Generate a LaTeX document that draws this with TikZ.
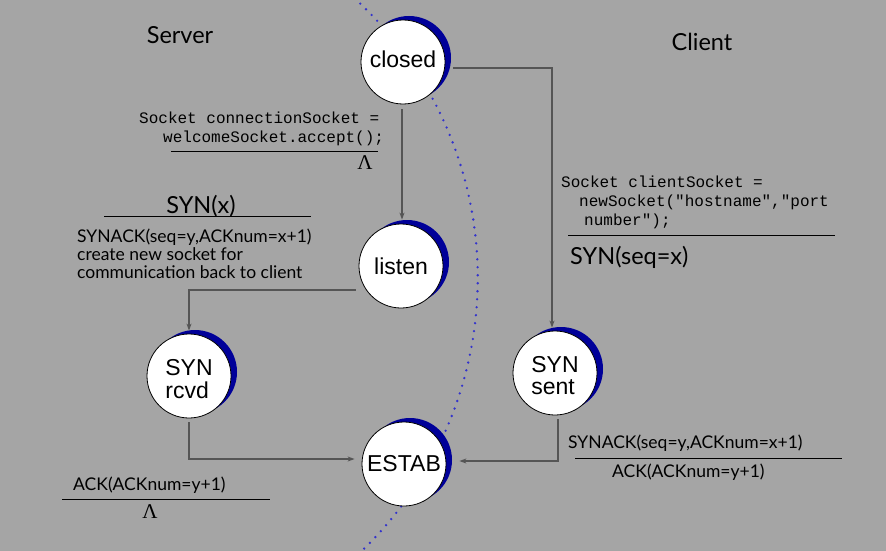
\documentclass[tikz,border=0pt]{standalone}
\usepackage{fontspec}
\setmainfont{Lato}
\newfontfamily\arialf{Liberation Sans}
\newfontfamily\monof{Liberation Mono}
\newfontfamily\seriff{Liberation Serif}
\usetikzlibrary{arrows.meta,shadows}
\definecolor{bg}{HTML}{A5A5A5}
\definecolor{crescent}{HTML}{000099}
\definecolor{dotblue}{HTML}{3333CC}
\definecolor{connc}{HTML}{555555}
\newcommand{\twoline}[2]{\raisebox{-6pt}[\height][\depth]{\begin{tabular}{@{}l@{}}#1\\#2\end{tabular}}}
\tikzset{
  state/.style={circle,draw=black,line width=0.8pt,fill=white,minimum size=84pt,inner sep=0pt,
    font=\arialf\fontsize{23}{22}\selectfont,
    general shadow={shadow xshift=6pt,shadow yshift=4pt,fill=crescent,draw=none,opacity=1}},
  conn/.style={draw=connc,line width=1.3pt,-{Stealth[length=7pt,width=5pt]}},
  code/.style={font=\monof\fontsize{16}{19}\selectfont,inner sep=0pt,anchor=base west},
  lbl/.style={font=\fontsize{17.5}{18}\selectfont,inner sep=0pt,anchor=base west},
  big/.style={font=\fontsize{23.5}{26}\selectfont,inner sep=0pt},
  lam/.style={font=\seriff\fontsize{21}{21}\selectfont,inner sep=0pt},
  rule/.style={draw=black,line width=0.8pt},
  dots/.style={draw=dotblue,line width=2.6pt,line cap=round,dash pattern=on 0pt off 8pt},
}
\begin{document}
\begin{tikzpicture}[x=1pt,y=-1pt]
\fill[bg] (0,0) rectangle (886,551);
\useasboundingbox (0,0) rectangle (886,551);
% dotted boundary arc
\draw[dots] (98.75,278) ++(-50:379) arc[start angle=-50,end angle=50,radius=379];
% titles
\node[big] (server) at (180,35) {Server};
\node[big] (client) at (702,42) {Client};
% states
\node[state] (closed) at (403,62) {\raisebox{3pt}[\height][\depth]{closed}};
\node[state] (listen) at (401,266) {listen};
\node[state] (synrcvd) at (189,376) {\twoline{SYN}{rcvd}};
\node[state] (estab) at (404,464) {ESTAB};
\node[state] (synsent) at (555,373) {\twoline{SYN}{sent}};
% connectors
\draw[conn] ([shift={(8,6)}]closed.east) -| ([shift={(-3,-3)}]synsent.north);
\draw[conn] ([shift={(-1,5)}]closed.south) -- ([shift={(-1,-4)}]closed.south |- listen.north);
\draw[conn] ([shift={(-3,24)}]listen.west) -| ([shift={(0,-3)}]synrcvd.north);
\draw[conn] ([shift={(0,4)}]synrcvd.south) |- ([shift={(-7,-5)}]estab.west);
\draw[conn] ([shift={(3,4)}]synsent.south) |- ([shift={(13,-3)}]estab.east);
% server-side labels
\node[code] (sc1) at (139,123) {Socket connectionSocket =};
\node[code] (sc2) at (163,142) {welcomeSocket.accept();};
\draw[rule] (171,151) -- (378,151);
\node[lam] (lam1) at (365,163) {Λ};
\node[big] (synx) at (201,206) {SYN(x)};
\draw[rule] (104,216) -- (311,216);
\node[lbl,align=left,anchor=north west,font=\fontsize{17.5}{18}\selectfont] (synack1) at (77,229) {SYNACK(seq=y,ACKnum=x+1)\\create new socket for\\communication back to client};
% client labels
\node[code] (cc1) at (561,187) {Socket clientSocket =};
\node[code] (cc2) at (579,206) {newSocket("hostname","port};
\node[code] (cc3) at (584,225) {number");};
\draw[rule] (568,235) -- (835,235);
\node[big,anchor=base west] (synseq) at (570,264) {SYN(seq=x)};
% bottom right
\node[lbl] (synack2) at (568,448) {SYNACK(seq=y,ACKnum=x+1)};
\draw[rule] (575,458) -- (842,458);
\node[lbl] (ack2) at (612,477) {ACK(ACKnum=y+1)};
% bottom left
\node[lbl] (ack1) at (73,490) {ACK(ACKnum=y+1)};
\draw[rule] (62,499) -- (270,499);
\node[lam] (lam2) at (150,512) {Λ};
\end{tikzpicture}
\end{document}
